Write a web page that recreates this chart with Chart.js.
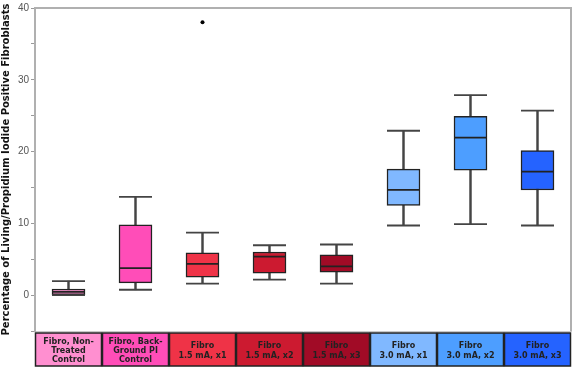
<!DOCTYPE html>
<html><head><meta charset="utf-8">
<script src="https://cdn.jsdelivr.net/npm/chart.js@4"></script>
<style>html,body{margin:0;padding:0;background:#fff}#wrap{width:572px;height:367px}</style>
</head><body><div id="wrap"><canvas id="c" width="572" height="367"></canvas></div>
<script>
const categories = [
  ["Fibro, Non-", "Treated", "Control"],
  ["Fibro, Back-", "Ground PI", "Control"],
  ["Fibro", "1.5 mA, x1"],
  ["Fibro", "1.5 mA, x2"],
  ["Fibro", "1.5 mA, x3"],
  ["Fibro", "3.0 mA, x1"],
  ["Fibro", "3.0 mA, x2"],
  ["Fibro", "3.0 mA, x3"]
];
const whiskerLow  = [0.0, 0.75, 1.6, 2.15, 1.6, 9.7, 9.9, 9.7];
const q1          = [0.05, 1.7, 2.5, 3.05, 3.2, 12.5, 17.4, 14.65];
const median      = [0.45, 3.75, 4.35, 5.35, 4.0, 14.65, 21.95, 17.2];
const q3          = [0.85, 9.8, 5.9, 6.0, 5.6, 17.55, 24.9, 20.15];
const whiskerHigh = [1.95, 13.7, 8.7, 6.95, 7.05, 22.9, 27.85, 25.7];
const outliers    = [null, null, 38, null, null, null, null, null];
const yMin = -5, yMax = 40, yStep = 5, yLabelEvery = 10;
const yTitle = "Percentage of Living/Propidium Iodide Positive Fibroblasts";
const colors = ["#ff8fd0", "#ff4db8", "#ef3347", "#cc1a30", "#a10b26", "#80b8ff", "#4d9eff", "#2563ff"];

const labelBoxes = {
  id: 'labelBoxes',
  afterDraw(chart) {
    const {ctx, chartArea: a} = chart;
    const xs = chart.scales.x;
    ctx.save();
    ctx.strokeStyle = '#b0b0b0';
    ctx.lineWidth = 2;
    ctx.beginPath();
    ctx.moveTo(a.left, a.top); ctx.lineTo(a.right, a.top); ctx.lineTo(a.right, a.bottom);
    ctx.stroke();
    const w = (xs.right - xs.left) / categories.length * 0.985;
    const y0 = a.bottom + 2, h = 33;
    categories.forEach((lab, i) => {
      const cx = xs.getPixelForValue(i);
      ctx.fillStyle = colors[i];
      ctx.fillRect(cx - w / 2, y0, w, h);
      ctx.strokeStyle = '#222';
      ctx.lineWidth = 1.5;
      ctx.strokeRect(cx - w / 2, y0, w, h);
      ctx.fillStyle = '#222';
      ctx.font = 'bold 8px "DejaVu Sans"';
      ctx.textAlign = 'center';
      ctx.textBaseline = 'middle';
      const lh = lab.length > 2 ? 9 : 10;
      const cy = y0 + h / 2 + 1;
      lab.forEach((t, j) => {
        ctx.fillText(t, cx, cy + (j - (lab.length - 1) / 2) * lh);
      });
    });
    ctx.restore();
  }
};

const lineCommon = {type: 'line', showLine: false, pointStyle: 'line', pointRadius: 16.5, pointHoverRadius: 16.5, pointBorderWidth: 1.8, pointBorderColor: '#444', order: 1};

new Chart(document.getElementById('c'), {
  type: 'bar',
  data: {
    labels: categories,
    datasets: [
      {label: 'whisker', data: categories.map((_, i) => [whiskerLow[i], whiskerHigh[i]]), backgroundColor: '#444', barThickness: 1.8, grouped: false, order: 3},
      {label: 'box', data: categories.map((_, i) => [q1[i], q3[i]]), backgroundColor: colors, borderColor: '#222', borderWidth: 1.5, borderSkipped: false, barThickness: 33, grouped: false, order: 2},
      Object.assign({label: 'low', data: whiskerLow}, lineCommon),
      Object.assign({label: 'high', data: whiskerHigh}, lineCommon),
      Object.assign({label: 'median', data: median}, lineCommon, {pointBorderColor: '#222'}),
      {type: 'line', label: 'outlier', data: outliers, showLine: false, pointStyle: 'circle', pointRadius: 2, pointBackgroundColor: '#000', pointBorderColor: '#000', pointBorderWidth: 0, order: 0}
    ]
  },
  options: {
    responsive: false,
    animation: false,
    devicePixelRatio: 1,
    layout: {autoPadding: false, padding: {top: 6, right: 1, left: 0, bottom: 0}},
    plugins: {legend: {display: false}, tooltip: {enabled: false}},
    scales: {
      x: {
        grid: {display: false},
        border: {color: '#c8c8c8', width: 1},
        ticks: {display: false},
        afterFit: s => { s.height = 36; }
      },
      y: {
        min: yMin, max: yMax,
        ticks: {stepSize: yStep, color: '#555', padding: 2, font: {size: 10, family: 'Liberation Sans'},
          callback: v => (v % yLabelEvery === 0 ? v : '')},
        grid: {drawOnChartArea: false, tickLength: 4, color: '#999'},
        border: {color: '#b0b0b0', width: 2},
        title: {display: true, text: yTitle, color: '#111', padding: 0, font: {size: 10, weight: 'bold', family: 'DejaVu Sans'}},
        afterFit: s => { s.width = 35; }
      }
    }
  },
  plugins: [labelBoxes]
});
</script>
</body></html>
